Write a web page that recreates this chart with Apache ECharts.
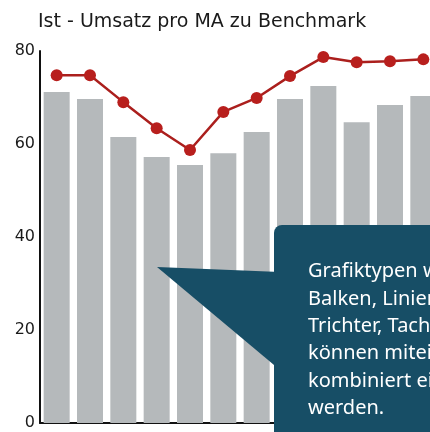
<!DOCTYPE html>
<html>
<head>
<meta charset="utf-8">
<script src="https://cdn.jsdelivr.net/npm/echarts@6/dist/echarts.min.js"></script>
<style>
    html, body { margin: 0; padding: 0; background: #fff; }
    #main { width: 430px; height: 432px; }
</style>
</head>
<body>
<div id="main"></div>
<script>
// Ist-Werte (Balken) und Benchmark (Linie)
var categories = ['1', '2', '3', '4', '5', '6', '7', '8', '9', '10', '11', '12'];
var istValues = [71.2, 69.7, 61.5, 57.2, 55.5, 58, 62.6, 69.7, 72.5, 64.7, 68.4, 70.3];
var benchmarkValues = [74.8, 74.8, 69, 63.4, 58.7, 66.9, 69.9, 74.6, 78.7, 77.6, 77.8, 78.2];
var yTicks = [0, 20, 40, 60, 80];

var calloutLines = [
    'Grafiktypen wie',
    'Balken, Linien,',
    'Trichter, Tacho',
    'können miteinander',
    'kombiniert eingesetzt',
    'werden.'
];

var myChart = echarts.init(document.getElementById('main'));

var option = {
    animation: false,
    backgroundColor: '#fff',
    title: {
        text: 'Ist - Umsatz pro MA zu Benchmark',
        left: 33,
        top: 8,
        textStyle: {
            fontFamily: 'DejaVu Sans',
            fontSize: 19,
            fontWeight: 'normal',
            color: '#1a1a1a'
        }
    },
    grid: {
        left: 40,
        top: 51,
        width: 400,
        bottom: 9,
        outerBoundsMode: 'none'
    },
    xAxis: {
        type: 'category',
        data: categories,
        axisLine: { lineStyle: { color: '#111', width: 2 } },
        axisTick: { show: false },
        axisLabel: { show: false }
    },
    yAxis: {
        type: 'value',
        min: yTicks[0],
        max: yTicks[yTicks.length - 1],
        interval: 20,
        splitLine: { show: false },
        axisLine: { show: true, lineStyle: { color: '#111', width: 2 } },
        axisTick: { show: false },
        axisLabel: {
            margin: 5,
            fontFamily: 'DejaVu Sans',
            fontSize: 16,
            color: '#1a1a1a'
        }
    },
    series: [
        {
            name: 'Ist',
            type: 'bar',
            data: istValues,
            barWidth: 26,
            itemStyle: { color: '#b5b9bb' }
        },
        {
            name: 'Benchmark',
            type: 'line',
            data: benchmarkValues,
            symbol: 'circle',
            symbolSize: 12,
            lineStyle: { color: '#ab1f1d', width: 2.5 },
            itemStyle: { color: '#b81f1d' }
        }
    ],
    graphic: [
        {
            type: 'polygon',
            shape: { points: [[157, 267], [280, 272], [280, 370]] },
            style: { fill: '#174e66' },
            z: 100
        },
        {
            type: 'rect',
            shape: { x: 274, y: 225, width: 180, height: 220, r: 8 },
            style: { fill: '#174e66' },
            z: 100
        },
        {
            type: 'text',
            x: 308,
            y: 258,
            style: {
                text: calloutLines.join('\n'),
                fill: '#fff',
                fontFamily: 'Noto Sans',
                fontSize: 20,
                lineHeight: 27.3
            },
            z: 101
        }
    ]
};

myChart.setOption(option);
</script>
</body>
</html>
